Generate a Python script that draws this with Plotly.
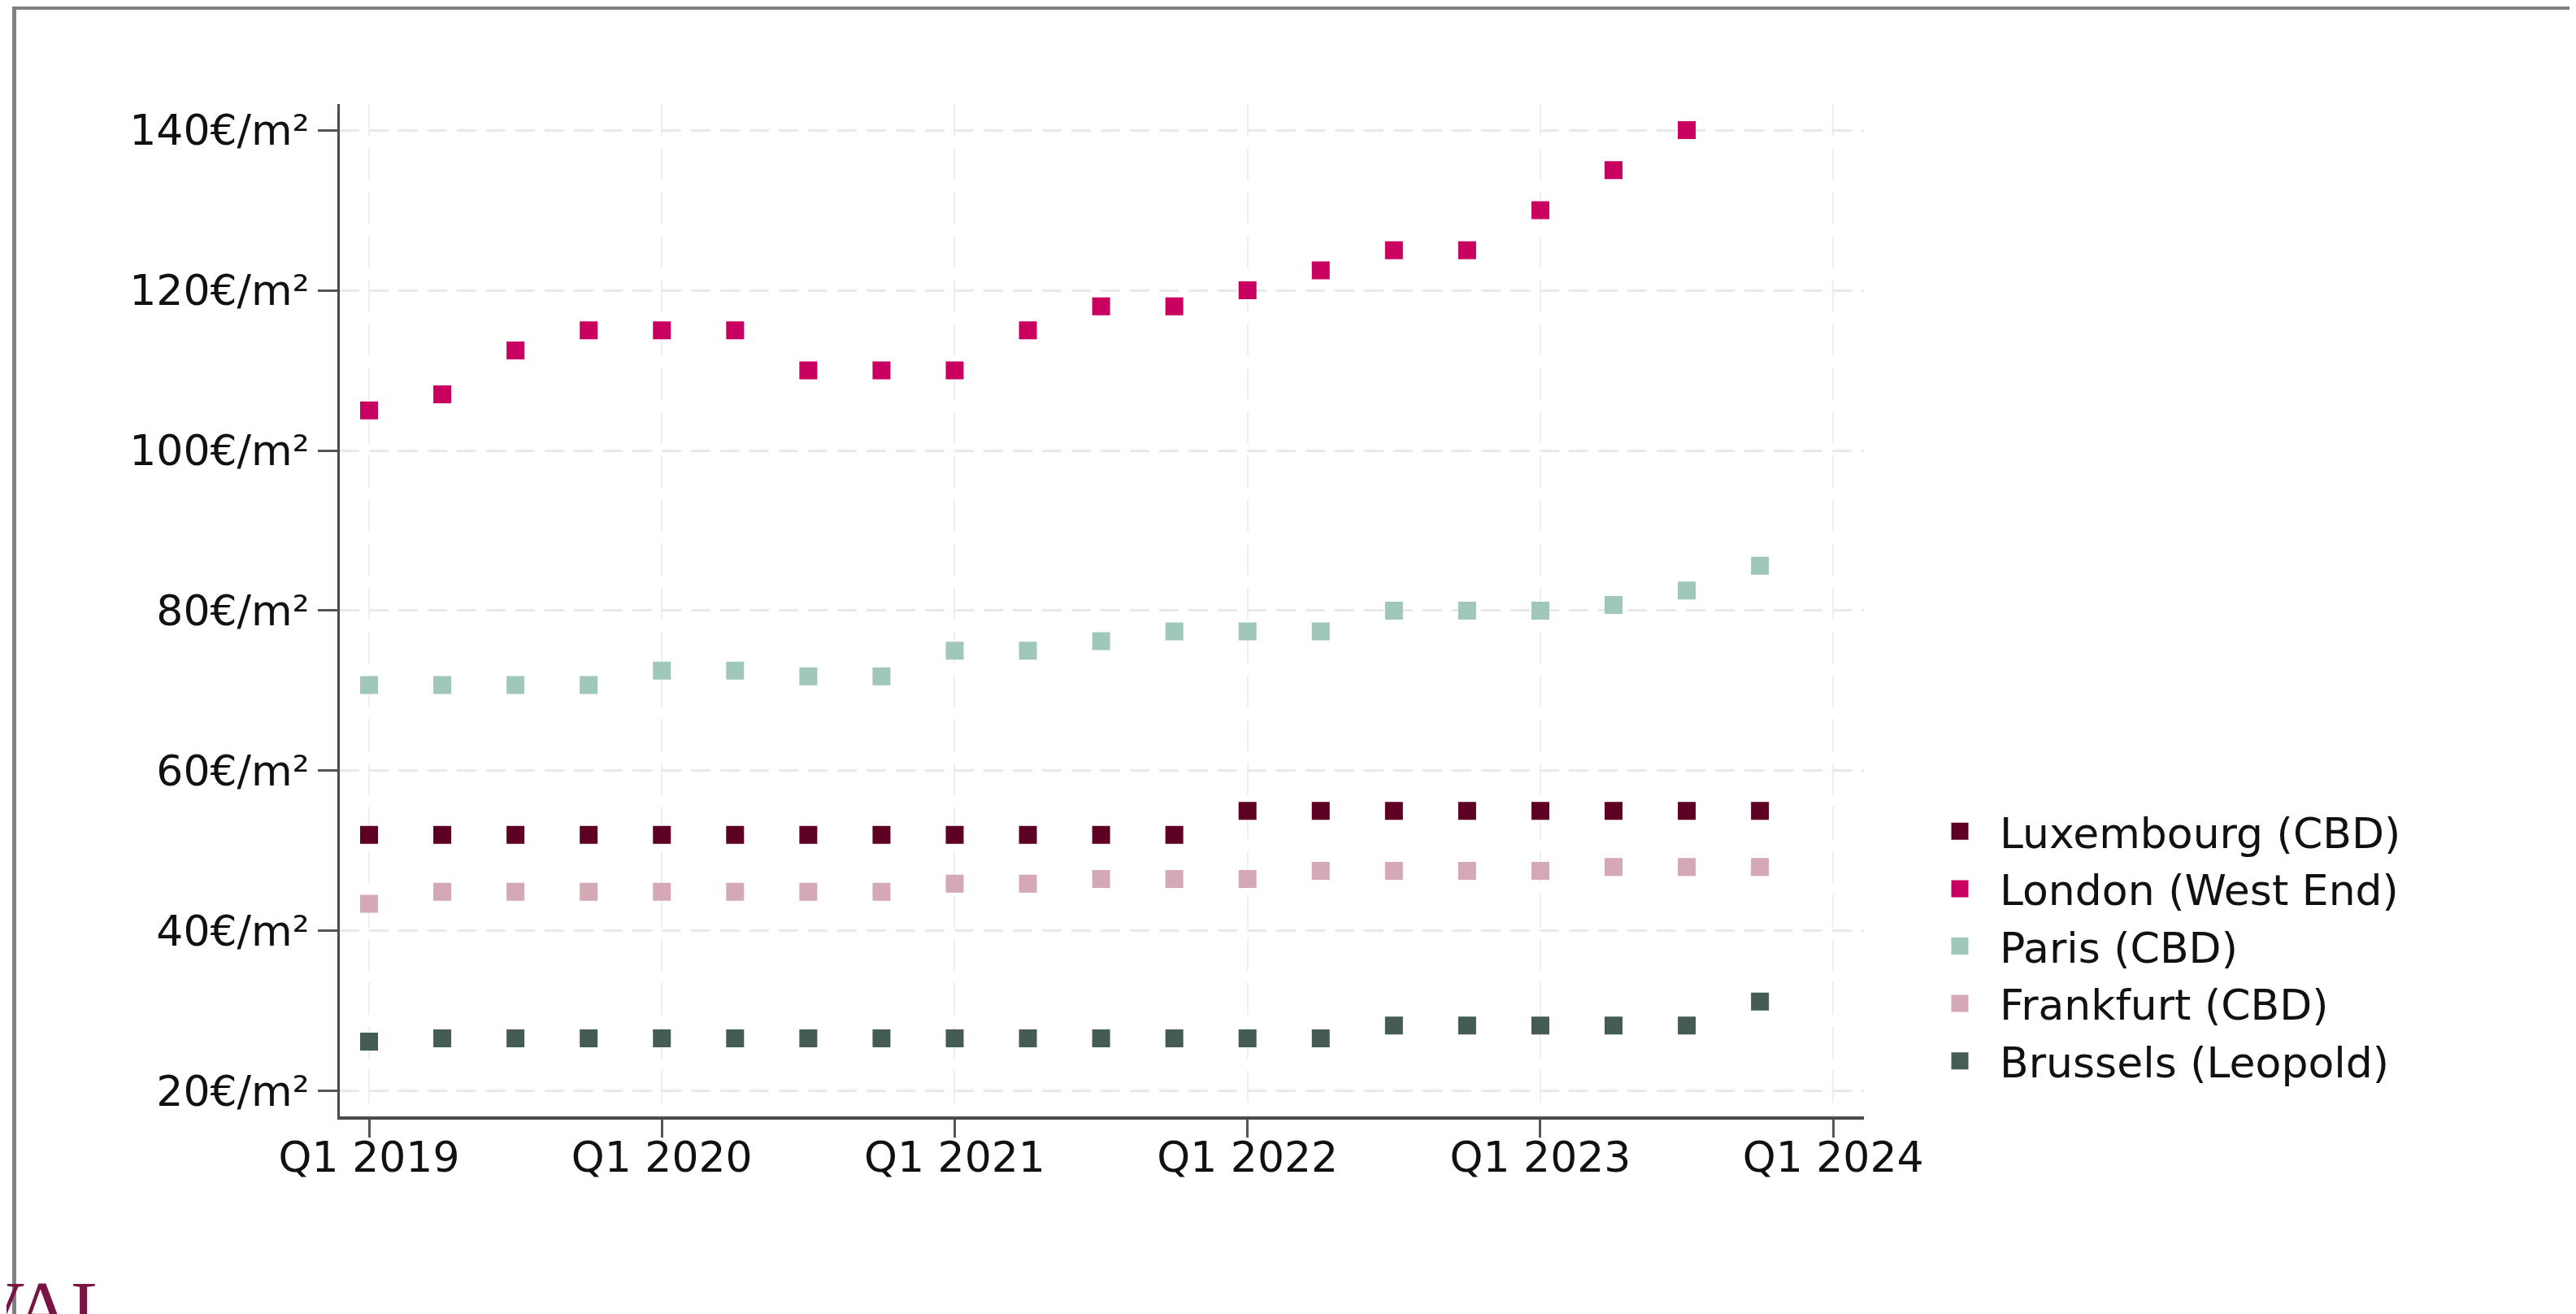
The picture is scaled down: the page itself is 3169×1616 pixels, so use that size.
import plotly.graph_objects as go

# ---------------- data ----------------
quarters = ["Q1 2019", "Q2 2019", "Q3 2019", "Q4 2019",
            "Q1 2020", "Q2 2020", "Q3 2020", "Q4 2020",
            "Q1 2021", "Q2 2021", "Q3 2021", "Q4 2021",
            "Q1 2022", "Q2 2022", "Q3 2022", "Q4 2022",
            "Q1 2023", "Q2 2023", "Q3 2023", "Q4 2023",
            "Q1 2024"]

luxembourg = [52, 52, 52, 52, 52, 52, 52, 52, 52, 52, 52, 52,
              55, 55, 55, 55, 55, 55, 55, 55]
london = [105, 107, 112.5, 115, 115, 115, 110, 110, 110, 115, 118, 118,
          120, 122.5, 125, 125, 130, 135, 140]
paris = [70.7, 70.7, 70.7, 70.7, 72.5, 72.5, 71.8, 71.8, 75, 75, 76.2, 77.4,
         77.4, 77.4, 80, 80, 80, 80.7, 82.5, 85.6]
frankfurt = [43.4, 44.9, 44.9, 44.9, 44.9, 44.9, 44.9, 44.9, 45.9, 45.9, 46.5, 46.5,
             46.5, 47.5, 47.5, 47.5, 47.5, 48, 48, 48]
brussels = [26.2, 26.6, 26.6, 26.6, 26.6, 26.6, 26.6, 26.6, 26.6, 26.6, 26.6, 26.6,
            26.6, 26.6, 28.2, 28.2, 28.2, 28.2, 28.2, 31.2]

series_names = ["Luxembourg (CBD)", "London (West End)", "Paris (CBD)",
                "Frankfurt (CBD)", "Brussels (Leopold)"]
series_values = [luxembourg, london, paris, frankfurt, brussels]
series_colors = ["#5e0024", "#c9005f", "#a0c8b9", "#d5a8b5", "#455c53"]

x_tick_labels = ["Q1 2019", "Q1 2020", "Q1 2021", "Q1 2022", "Q1 2023", "Q1 2024"]
y_tick_values = [20, 40, 60, 80, 100, 120, 140]
y_tick_labels = ["20€/m²", "40€/m²", "60€/m²", "80€/m²", "100€/m²", "120€/m²", "140€/m²"]

# ---------------- layout geometry (figure pixels; page body adds 8px) ----------------
OFF = 8
W, H = 3169 - OFF, 1616 - OFF
L, R, T, B = 418 - OFF, 2293 - OFF, 128 - OFF, 1373 - OFF


def px(x):
    return (x - L) / (R - L)


def py(y):
    return (B - y) / (B - T)


FONT = "DejaVu Sans"
FS = 52
ITEMW = 88

fig = go.Figure()
for name, vals, col in zip(series_names, series_values, series_colors):
    xs = [quarters.index(q) for q in quarters[:len(vals)]]
    fig.add_trace(go.Scatter(
        x=xs, y=vals, name=name, mode="markers",
        marker=dict(symbol="square", size=17, color=col,
                    line=dict(color=col, width=5)),
    ))

x_tick_positions = [quarters.index(q) for q in x_tick_labels]

fig.update_layout(
    width=W, height=H,
    margin=dict(l=L, r=W - R, t=T, b=H - B, pad=0),
    paper_bgcolor="white", plot_bgcolor="white",
    font=dict(family=FONT, size=FS, color="#111111"),
    showlegend=True,
    legend=dict(
        x=px(2354), y=py(974), xanchor="left", yanchor="top",
        font=dict(family=FONT, size=FS, color="#111111"),
        bgcolor="rgba(0,0,0,0)", borderwidth=0,
        itemwidth=ITEMW, tracegroupgap=0,
    ),
    xaxis=dict(
        range=[-0.4, 20.42],
        tickmode="array", tickvals=x_tick_positions, ticktext=x_tick_labels,
        showline=True, linecolor="#4a4a4a", linewidth=4,
        ticks="outside", ticklen=22, tickwidth=3, tickcolor="#555555",
        ticklabelstandoff=-20,
        showgrid=True, gridcolor="#efefef", gridwidth=2, griddash="40px,14px",
        zeroline=False,
        tickfont=dict(family=FONT, size=FS, color="#111111"),
    ),
    yaxis=dict(
        range=[16.85, 143.25],
        tickmode="array", tickvals=y_tick_values, ticktext=y_tick_labels,
        showline=True, linecolor="#4a4a4a", linewidth=3,
        ticks="outside", ticklen=24, tickwidth=3, tickcolor="#555555",
        showgrid=True, gridcolor="#e9e9e9", gridwidth=3, griddash="24px,12px",
        zeroline=False,
        tickfont=dict(family=FONT, size=FS, color="#111111"),
    ),
    shapes=[
        dict(type="line", xref="paper", yref="paper",
             x0=px(7), x1=px(3169), y0=py(1.5), y1=py(1.5),
             line=dict(color="#808080", width=5)),
        dict(type="line", xref="paper", yref="paper",
             x0=px(9.5), x1=px(9.5), y0=py(-1), y1=py(1640),
             line=dict(color="#808080", width=5)),
        dict(type="line", xref="paper", yref="paper",
             x0=px(3158.5), x1=px(3158.5), y0=py(-1), y1=py(1640),
             line=dict(color="#808080", width=3)),
    ],
    annotations=[
        dict(text="VAL", xref="paper", yref="paper",
             x=px(-49), y=py(1601), xanchor="left", yanchor="middle",
             showarrow=False,
             font=dict(family="Liberation Serif", size=96, color="#7a1444")),
    ],
)

fig.write_html("out.html")
